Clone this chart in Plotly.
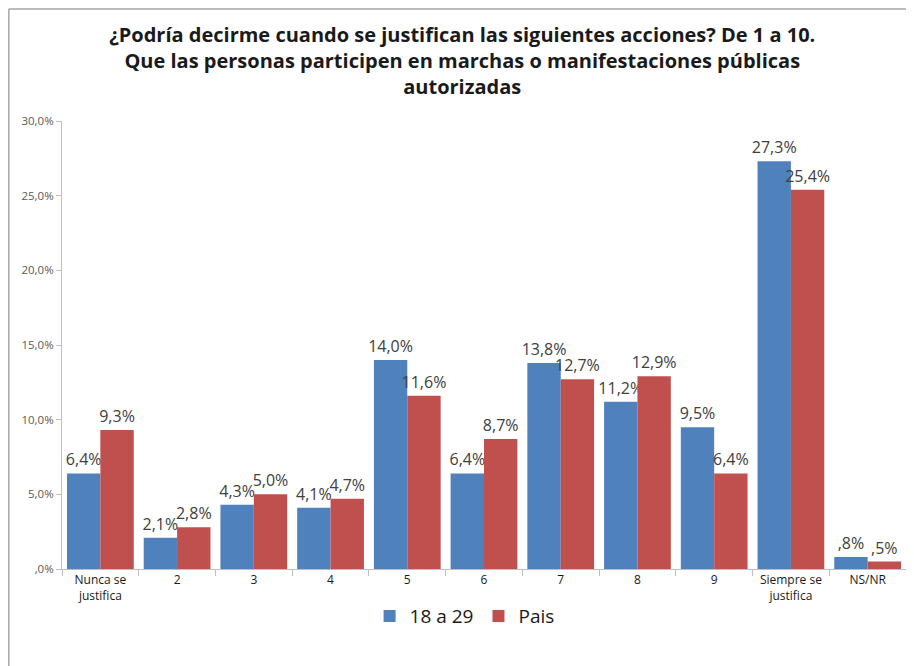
import plotly.graph_objects as go

CATEGORIES = ["Nunca se<br>justifica", "2", "3", "4", "5", "6", "7", "8", "9",
              "Siempre se<br>justifica", "NS/NR"]
JOVENES = [6.4, 2.1, 4.3, 4.1, 14.0, 6.4, 13.8, 11.2, 9.5, 27.3, 0.8]
PAIS = [9.3, 2.8, 5.0, 4.7, 11.6, 8.7, 12.7, 12.9, 6.4, 25.4, 0.5]
Y_TICKS = [0, 5, 10, 15, 20, 25, 30]


def pct(v):
    s = f"{v:.1f}".replace(".", ",")
    if s.startswith("0,"):
        s = s[1:]
    return s + "%"


FONT = "Open Sans, sans-serif"

fig = go.Figure()
for name, vals, color in [("18 a 29", JOVENES, "#4f81bd"), ("Pais", PAIS, "#c0504d")]:
    fig.add_trace(go.Bar(
        x=CATEGORIES, y=vals, name=name,
        marker=dict(color=color, line=dict(width=0)),
        text=[pct(v) for v in vals],
        textposition="outside",
        textfont=dict(size=16, color="#404040", family=FONT),
        cliponaxis=False,
    ))

fig.update_layout(
    width=914, height=666,
    paper_bgcolor="white", plot_bgcolor="white",
    font=dict(family=FONT, color="#404040"),
    margin=dict(l=54, r=16, t=113, b=105),
    barmode="group", bargap=0.13, bargroupgap=0,
    uniformtext=dict(minsize=16, mode="show"),
    title=dict(
        text="¿Podría decirme cuando se justifican las siguientes acciones? De 1 a 10.<br>"
             "Que las personas participen en marchas o manifestaciones públicas<br>autorizadas",
        x=0.497, xanchor="center", y=0.949, yanchor="top",
        font=dict(size=20, color="#1a1a1a", family=FONT, weight="bold"),
    ),
    xaxis=dict(
        automargin=False,
        showline=True, linecolor="#bfbfbf", linewidth=1,
        ticks="outside", tickson="boundaries", ticklen=6, tickcolor="#bfbfbf",
        tickfont=dict(size=12, color="#1a1a1a"),
        showgrid=False,
    ),
    yaxis=dict(
        automargin=False,
        range=[0, 30], tickvals=Y_TICKS, ticktext=[pct(v) for v in Y_TICKS],
        showline=True, linecolor="#bfbfbf", linewidth=1,
        ticks="outside", ticklen=5, tickcolor="#bfbfbf",
        tickfont=dict(size=11.5, color="#595959"),
        showgrid=False, zeroline=False,
    ),
    legend=dict(
        orientation="h", x=0.477, xanchor="center", y=-0.105, yanchor="middle",
        font=dict(size=19, color="#1a1a1a"), itemwidth=30,
    ),
    shapes=[
        dict(type="line", xref="paper", yref="paper", x0=-0.063, x1=1.03, y0=1.25, y1=1.25,
             line=dict(color="#a6a6a6", width=1.5)),
        dict(type="line", xref="paper", yref="paper", x0=-0.063, x1=-0.063, y0=1.25, y1=-0.24,
             line=dict(color="#a6a6a6", width=1.5)),
    ],
)

fig.write_html("out.html")
